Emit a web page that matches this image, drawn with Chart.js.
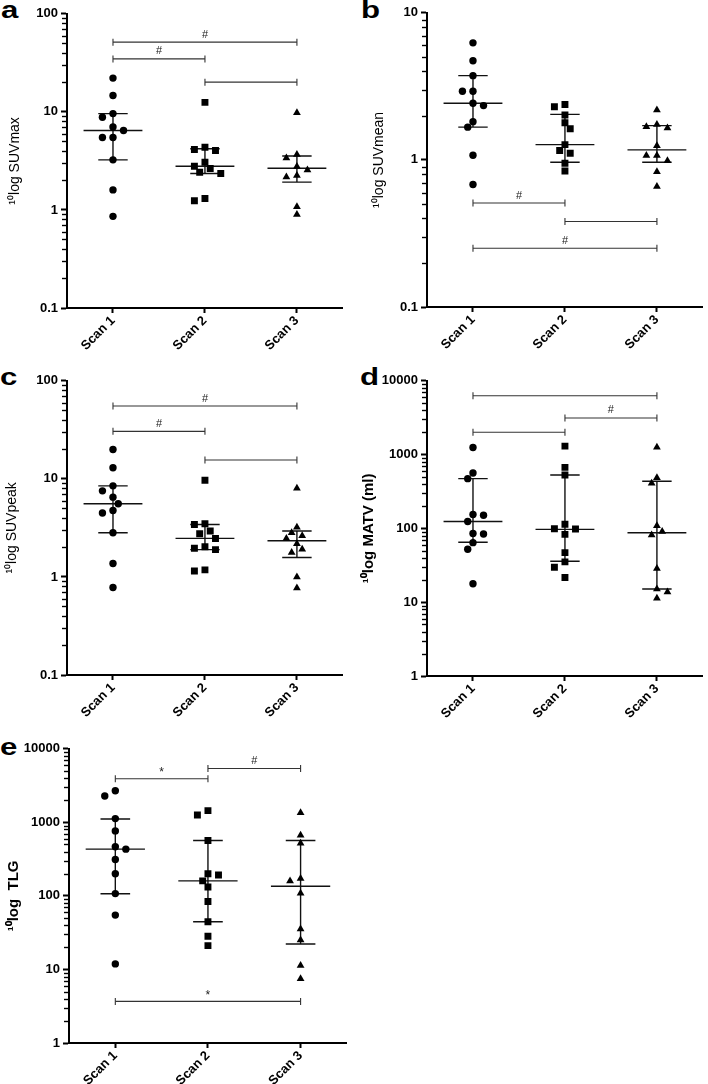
<!DOCTYPE html>
<html><head><meta charset="utf-8">
<script src="https://cdn.jsdelivr.net/npm/chart.js@4"></script>
<style>
html,body{margin:0;padding:0;background:#fff;width:708px;height:1084px;overflow:hidden;position:relative;}
canvas{position:absolute;}
.pl{position:absolute;font:bold 24px "Liberation Sans",Arial,Helvetica,sans-serif;line-height:24px;transform:scaleX(1.3);transform-origin:0 0;color:#000;}
</style></head><body>
<div class="pl" style="left:1px;top:-2.5px">a</div>
<div class="pl" style="left:361px;top:-2.5px">b</div>
<div class="pl" style="left:0px;top:364.5px">c</div>
<div class="pl" style="left:360px;top:364.5px">d</div>
<div class="pl" style="left:0px;top:734.5px">e</div>
<canvas id="ca"></canvas>
<canvas id="cb"></canvas>
<canvas id="cc"></canvas>
<canvas id="cd"></canvas>
<canvas id="ce"></canvas>
<script>
// ---------- categories ----------
const scanLabels = ['Scan 1', 'Scan 2', 'Scan 3'];

// ---------- a: SUVmax ----------
const suvmaxScan1 = [22.1, 14.7, 9.6, 8.8, 7.0, 6.45, 5.47, 5.47, 3.24, 1.6, 0.86];
const suvmaxScan2 = [12.5, 4.36, 4.13, 4.03, 3.07, 2.79, 2.64, 2.42, 2.35, 1.31, 1.24];
const suvmaxScan3 = [9.8, 3.67, 3.39, 2.77, 2.56, 2.24, 2.17, 1.08, 0.9];
const suvmaxMedian = [6.45, 2.79, 2.66];
const suvmaxQ1 = [3.24, 2.35, 1.92];
const suvmaxQ3 = [9.6, 4.2, 3.55];
const suvmaxBrackets = [[1, 3, 51.4, '#'], [1, 2, 34.7, '#'], [2, 3, 20.1, '']];
const suvmaxTicks = [0.1, 1, 10, 100];

// ---------- b: SUVmean ----------
const suvmeanScan1 = [6.25, 4.72, 3.74, 2.93, 2.93, 2.43, 2.34, 1.82, 1.67, 1.075, 0.68];
const suvmeanScan2 = [2.38, 2.30, 2.02, 1.79, 1.63, 1.27, 1.16, 1.11, 0.95, 0.84];
const suvmeanScan3 = [2.18, 1.74, 1.68, 1.65, 1.25, 1.07, 1.07, 0.985, 0.83, 0.66];
const suvmeanMedian = [2.43, 1.27, 1.17];
const suvmeanQ1 = [1.67, 0.965, 0.965];
const suvmeanQ3 = [3.74, 2.04, 1.71];
const suvmeanBrackets = [[1, 2, 0.509, '#'], [2, 3, 0.381, ''], [1, 3, 0.251, '#']];
const suvmeanTicks = [0.1, 1, 10];

// ---------- c: SUVpeak ----------
const suvpeakScan1 = [19.9, 13.0, 8.49, 7.55, 6.51, 5.57, 4.76, 4.48, 2.82, 1.37, 0.78];
const suvpeakScan2 = [9.69, 3.49, 3.43, 2.94, 2.76, 2.47, 2.03, 1.96, 1.90, 1.18, 1.15];
const suvpeakScan3 = [8.04, 3.22, 2.82, 2.63, 2.47, 2.18, 1.91, 1.77, 1.0, 0.77];
const suvpeakMedian = [5.57, 2.47, 2.34];
const suvpeakQ1 = [2.82, 1.90, 1.58];
const suvpeakQ3 = [8.49, 3.43, 2.94];
const suvpeakBrackets = [[1, 3, 55.3, '#'], [1, 2, 30.5, '#'], [2, 3, 15.6, '']];
const suvpeakTicks = [0.1, 1, 10, 100];

// ---------- d: MATV ----------
const matvScan1 = [1250, 563, 472, 154, 151, 124, 85.6, 83.9, 64.1, 52.1, 17.8];
const matvScan2 = [1302, 671, 529, 114, 99, 98, 83, 47, 35.2, 29.8, 21.6];
const matvScan3 = [1262, 487, 408, 109, 91, 81.3, 28.6, 15.1, 13.7, 11.3];
const matvMedian = [124, 97, 87.4];
const matvQ1 = [65, 35.9, 15.1];
const matvQ3 = [472, 529, 435];
const matvBrackets = [[1, 3, 6280, ''], [2, 3, 3138, '#'], [1, 2, 2010, '']];
const matvTicks = [1, 10, 100, 1000, 10000];

// ---------- e: TLG ----------
const tlgScan1 = [2690, 2277, 1124, 765, 465, 432, 313, 200, 107.5, 54.8, 11.9];
const tlgScan2 = [1442, 1260, 566, 200, 192, 160, 132, 83.8, 44.5, 28.2, 21.1];
const tlgScan3 = [1355, 669, 521, 173, 160, 109, 35.4, 25.1, 11.3, 7.46];
const tlgMedian = [432, 160, 135];
const tlgQ1 = [107, 44.5, 22.2];
const tlgQ3 = [1112, 566, 566];
const tlgBrackets = [[1, 2, 3908, '*'], [2, 3, 5393, '#'], [1, 3, 3.68, '*']];
const tlgTicks = [1, 10, 100, 1000, 10000];

// ---------- rendering ----------
const FONT = '"Liberation Sans", Arial, Helvetica, sans-serif';
const PAD_TOP = 10, XH = 50, PAD_R = 1;
const markerStyles = [
  {pointStyle: 'circle', radius: 3.7},
  {pointStyle: 'rect', radius: 4.9},
  {pointStyle: 'triangle', radius: 4.5}
];

function isMajor(v) {
  const l = Math.log10(v);
  return Math.abs(l - Math.round(l)) < 1e-6;
}
function fmtTick(v) { return String(Number(v.toPrecision(3))); }
function allLogTicks(majors) {
  const out = [];
  for (let i = 0; i < majors.length - 1; i++) {
    for (let d = 1; d <= 9; d++) out.push(Number((majors[i] * d).toPrecision(3)));
  }
  out.push(majors[majors.length - 1]);
  return out;
}

// simple beeswarm spread computed from values (no hard-coded positions)
function swarm(values, g, pxPerUnit, pxPerDecade) {
  const order = values.map((v, i) => i).sort((a, b) => values[b] - values[a]);
  const placed = [];
  const out = new Array(values.length);
  const step = 5.35, D = 7.6;
  let lastSign = 1;
  for (const i of order) {
    const py = Math.log10(values[i]) * pxPerDecade;
    let chosen = null;
    for (let k = 0; k < 14 && chosen === null; k++) {
      const cands = k === 0 ? [0] : [-lastSign * k * step, lastSign * k * step];
      for (const dx of cands) {
        if (placed.every(p => Math.hypot(p.dx - dx, p.py - py) >= D)) { chosen = dx; break; }
      }
    }
    if (chosen !== 0) lastSign = Math.sign(chosen);
    placed.push({dx: chosen, py});
    out[i] = {x: g + chosen / pxPerUnit, y: values[i]};
  }
  return out;
}

const minorTickPlugin = {
  id: 'minorTicks',
  afterDraw(chart) {
    const ys = chart.scales.y, ctx = chart.ctx, left = chart.chartArea.left - 1;
    ctx.save();
    ctx.strokeStyle = '#000';
    ctx.lineWidth = 1.4;
    ys.ticks.forEach(t => {
      if (isMajor(t.value)) return;
      const py = Math.round(ys.getPixelForValue(t.value)) + 0.5;
      ctx.beginPath(); ctx.moveTo(left - 4, py); ctx.lineTo(left, py); ctx.stroke();
    });
    ctx.restore();
  }
};
const sigLabelPlugin = {
  id: 'sigLabels',
  afterDatasetsDraw(chart) {
    const ctx = chart.ctx;
    ctx.save();
    ctx.fillStyle = '#222';
    ctx.textAlign = 'center';
    ctx.textBaseline = 'bottom';
    chart.data.datasets.forEach((ds, i) => {
      if (!ds.sigLabel) return;
      ctx.font = (ds.sigLabel === '*' ? '12px ' : '11px ') + FONT;
      const m = chart.getDatasetMeta(i).data;
      ctx.fillText(ds.sigLabel, (m[0].x + m[1].x) / 2, m[0].y - (ds.sigLabel === '*' ? 0 : 2));
    });
    ctx.restore();
  }
};

function makePanel(p) {
  const cv = document.getElementById(p.id);
  const plotW = p.box.right - p.box.left, plotH = p.box.bottom - p.box.top;
  cv.width = p.yw + plotW + PAD_R;
  cv.height = PAD_TOP + plotH + XH;
  cv.style.left = (p.box.left - p.yw) + 'px';
  cv.style.top = (p.box.top - PAD_TOP) + 'px';
  const yMin = p.ticks[0], yMax = p.ticks[p.ticks.length - 1];
  const pxPerUnit = plotW / 3;
  const pxPerDecade = plotH / Math.log10(yMax / yMin);

  const datasets = [];
  p.groups.forEach((vals, gi) => {
    datasets.push({
      type: 'scatter',
      data: swarm(vals, gi + 1, pxPerUnit, pxPerDecade),
      pointStyle: markerStyles[gi].pointStyle,
      pointRadius: markerStyles[gi].radius,
      pointBackgroundColor: '#000',
      pointBorderColor: '#000',
      pointBorderWidth: 0,
      showLine: false
    });
  });
  // median + interquartile range
  const summary = [];
  p.median.forEach((m, gi) => {
    const g = gi + 1;
    summary.push({x: g - 0.32, y: m}, {x: g + 0.32, y: m}, {x: g, y: null});
    summary.push({x: g - 0.16, y: p.q3[gi]}, {x: g + 0.16, y: p.q3[gi]}, {x: g, y: null});
    summary.push({x: g - 0.16, y: p.q1[gi]}, {x: g + 0.16, y: p.q1[gi]}, {x: g, y: null});
    summary.push({x: g, y: p.q1[gi]}, {x: g, y: p.q3[gi]}, {x: g, y: null});
  });
  datasets.push({
    type: 'line', data: summary, borderColor: '#111', borderWidth: 1.4,
    pointRadius: 0, spanGaps: false, fill: false, tension: 0
  });
  p.brackets.forEach(b => {
    datasets.push({
      type: 'line', data: [{x: b[0], y: b[2]}, {x: b[1], y: b[2]}],
      sigLabel: b[3], borderColor: '#333', borderWidth: 1.1, fill: false,
      pointStyle: 'line', pointRotation: 90, pointRadius: 3.5,
      pointBorderColor: '#333', pointBorderWidth: 1.1, pointBackgroundColor: '#333'
    });
  });

  const yTicks = allLogTicks(p.ticks);
  new Chart(cv, {
    type: 'scatter',
    data: {datasets},
    options: {
      responsive: false, animation: false, devicePixelRatio: 1,
      layout: {padding: {left: 0, top: PAD_TOP, right: PAD_R, bottom: 0}},
      plugins: {legend: {display: false}, tooltip: {enabled: false}},
      scales: {
        x: {
          type: 'linear', min: 0.5, max: 3.5,
          afterBuildTicks: s => { s.ticks = scanLabels.map((_, i) => ({value: i + 1})); },
          afterFit: s => { s.height = XH; },
          ticks: {autoSkip: false, minRotation: 45, maxRotation: 45, padding: 0, color: '#000',
            font: {family: FONT, size: 13, weight: 'bold'},
            callback: v => scanLabels[Math.round(v) - 1]},
          grid: {drawOnChartArea: false, drawTicks: true, tickLength: 5, tickWidth: 2, tickColor: '#000'},
          border: {display: true, color: '#000', width: 2}
        },
        y: {
          type: 'logarithmic', min: yMin, max: yMax,
          afterBuildTicks: s => { s.ticks = yTicks.map(v => ({value: v})); },
          afterFit: s => { s.width = p.yw; },
          ticks: {autoSkip: false, padding: 3, color: '#000',
            font: {family: FONT, size: 13, weight: 'bold'},
            callback: v => isMajor(v) ? fmtTick(v) : ''},
          grid: {drawOnChartArea: false, drawTicks: true, tickLength: 6, tickWidth: 2,
            tickColor: c => (c.tick && isMajor(c.tick.value)) ? '#000' : 'rgba(0,0,0,0)'},
          border: {display: true, color: '#000', width: 2},
          title: {display: true, text: p.title, color: '#000',
            font: {family: FONT, size: p.titleSize, weight: p.titleWeight},
            padding: {top: 0, bottom: 0}}
        }
      }
    },
    plugins: [minorTickPlugin, sigLabelPlugin]
  });
}

makePanel({id: 'ca', box: {left: 67, right: 347, top: 13, bottom: 308}, yw: 60,
  groups: [suvmaxScan1, suvmaxScan2, suvmaxScan3], median: suvmaxMedian, q1: suvmaxQ1, q3: suvmaxQ3,
  brackets: suvmaxBrackets, ticks: suvmaxTicks, title: '¹⁰log SUVmax', titleSize: 14, titleWeight: 'normal'});
makePanel({id: 'cb', box: {left: 427, right: 707, top: 12, bottom: 307}, yw: 56,
  groups: [suvmeanScan1, suvmeanScan2, suvmeanScan3], median: suvmeanMedian, q1: suvmeanQ1, q3: suvmeanQ3,
  brackets: suvmeanBrackets, ticks: suvmeanTicks, title: '¹⁰log SUVmean', titleSize: 14, titleWeight: 'normal'});
makePanel({id: 'cc', box: {left: 67, right: 347, top: 380, bottom: 675}, yw: 63,
  groups: [suvpeakScan1, suvpeakScan2, suvpeakScan3], median: suvpeakMedian, q1: suvpeakQ1, q3: suvpeakQ3,
  brackets: suvpeakBrackets, ticks: suvpeakTicks, title: '¹⁰log SUVpeak', titleSize: 14, titleWeight: 'normal'});
makePanel({id: 'cd', box: {left: 427, right: 707, top: 380, bottom: 676}, yw: 67,
  groups: [matvScan1, matvScan2, matvScan3], median: matvMedian, q1: matvQ1, q3: matvQ3,
  brackets: matvBrackets, ticks: matvTicks, title: '¹⁰log MATV (ml)', titleSize: 15, titleWeight: 'bold'});
makePanel({id: 'ce', box: {left: 69, right: 351, top: 748, bottom: 1043}, yw: 64,
  groups: [tlgScan1, tlgScan2, tlgScan3], median: tlgMedian, q1: tlgQ1, q3: tlgQ3,
  brackets: tlgBrackets, ticks: tlgTicks, title: '¹⁰log  TLG', titleSize: 15, titleWeight: 'bold'});
</script>
</body></html>
